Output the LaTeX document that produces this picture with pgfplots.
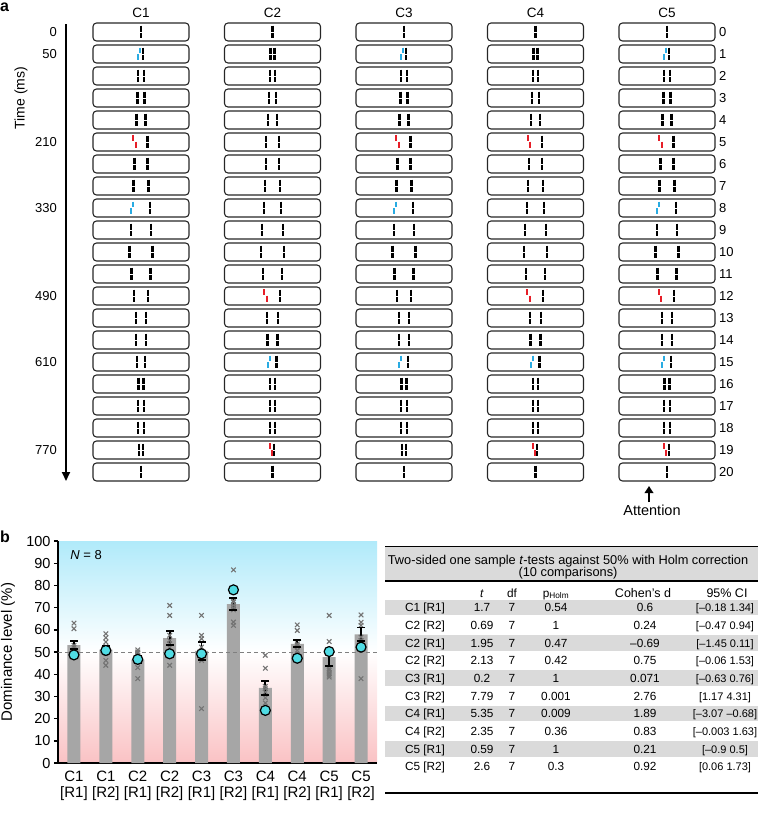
\documentclass[border=0pt]{standalone}
\usepackage{pgfplots}
\pgfplotsset{compat=1.18}
\usepackage{pgfplotstable}
\usepackage{fontspec}
\setmainfont{Liberation Sans}
\usetikzlibrary{arrows.meta}

\definecolor{stimcyan}{RGB}{41,171,226}
\definecolor{stimred}{RGB}{230,30,40}
\definecolor{bgblue}{RGB}{176,234,250}
\definecolor{bgpink}{RGB}{250,194,196}
\definecolor{bargray}{RGB}{166,166,166}
\definecolor{crossgray}{RGB}{115,115,115}
\definecolor{circcyan}{RGB}{80,220,228}
\definecolor{rowgray}{RGB}{218,218,218}

\pgfdeclareplotmark{stimB}{%
 \pgfpathmoveto{\pgfqpoint{0pt}{6.3pt}}\pgfpathlineto{\pgfqpoint{0pt}{0.5pt}}%
 \pgfpathmoveto{\pgfqpoint{0pt}{-0.5pt}}\pgfpathlineto{\pgfqpoint{0pt}{-6.3pt}}%
 \pgfusepathqstroke}
\pgfdeclareplotmark{stimC}{%
 \pgfpathmoveto{\pgfqpoint{1pt}{6.3pt}}\pgfpathlineto{\pgfqpoint{1pt}{0.6pt}}%
 \pgfpathmoveto{\pgfqpoint{-1pt}{-0.4pt}}\pgfpathlineto{\pgfqpoint{-1pt}{-6.3pt}}%
 \pgfusepathqstroke}
\pgfdeclareplotmark{stimR}{%
 \pgfpathmoveto{\pgfqpoint{-1.2pt}{6.8pt}}\pgfpathlineto{\pgfqpoint{-1.2pt}{1.2pt}}%
 \pgfpathmoveto{\pgfqpoint{1.2pt}{0.3pt}}\pgfpathlineto{\pgfqpoint{1.2pt}{-6.3pt}}%
 \pgfusepathqstroke}

% right stimuli (and single ones), offsets in px from column centre
\pgfplotstableread{
y dx
32 0
54 2
76 2.75
98 3.5
120 4.5
142 6.5
164 6.5
186 7.5
208 8.75
230 10.25
252 11.5
274 9.5
296 7.15
318 5.35
340 5
362 4
384 2.5
406 2.75
428 2.75
450 1.75
472 0
}\Rtab

% left stimuli; type per column: 0 black, 1 cyan, 2 red
\pgfplotstableread{
y dx a b c d e
54 -2 1 0 1 0 1
76 -2.75 0 0 0 0 0
98 -3.5 0 0 0 0 0
120 -4.5 0 0 0 0 0
142 -6.5 2 0 2 2 2
164 -6.5 0 0 0 0 0
186 -7.5 0 0 0 0 0
208 -8.75 1 0 1 0 1
230 -10.25 0 0 0 0 0
252 -11.5 0 0 0 0 0
274 -9.5 0 0 0 0 0
296 -7.15 0 2 0 2 2
318 -5.35 0 0 0 0 0
340 -5 0 0 0 0 0
362 -4 0 1 1 1 1
384 -2.5 0 0 0 0 0
406 -2.75 0 0 0 0 0
428 -2.75 0 0 0 0 0
450 -1.75 0 2 0 2 2
}\Ltab

% bar means and SEM
\pgfplotstableread{
x m s
0 53.1 1.8
1 51.1 1.6
2 46.6 1.75
3 56.3 3.0
4 50.5 4.0
5 71.6 2.8
6 33.8 3.05
7 53.7 1.6
8 47.7 3.9
9 57.9 3.1
}\bartab

\pgfplotstableread{
x y
0 63
0 60.5
0 53
0 52
0 50.5
0 49.5
0 49
0 48
1 58.2
1 56.4
1 54.5
1 52.5
1 51
1 49.2
1 46.2
1 44
2 51
2 50
2 49.5
2 48.5
2 46
2 45.5
2 43
2 38
3 71
3 66.5
3 57.5
3 55.2
3 53.7
3 52
3 49.2
3 44
4 66.5
4 57.5
4 56
4 52.2
4 50
4 48.5
4 46.2
4 24.5
5 87
5 73
5 72.5
5 71
5 70
5 69
5 63.5
5 62
6 48.5
6 42.7
6 34.5
6 33.5
6 32
6 29.4
6 27
6 23.7
7 62.2
7 59.7
7 53.7
7 53
7 52.2
7 50.7
7 48.5
7 47
8 66.5
8 54.7
8 50
8 42.5
8 41.7
8 40.5
8 39.5
8 38.7
9 66.7
9 63.4
9 62
9 56.7
9 55.2
9 53
9 51.9
9 38
}\crosstab

\newcommand{\stimcol}[2]{%
 \addplot[only marks, mark=stimB, mark options={black, line width=2.2pt}] table[x expr=\thisrow{dx}+#2, y=y]{\Rtab};
 \addplot[only marks, mark=stimB, mark options={black, line width=2.2pt}, restrict expr to domain={\thisrow{#1}}{-0.5:0.5}] table[x expr=\thisrow{dx}+#2, y=y]{\Ltab};
 \addplot[only marks, mark=stimC, mark options={stimcyan, line width=2pt}, restrict expr to domain={\thisrow{#1}}{0.5:1.5}] table[x expr=\thisrow{dx}+#2, y=y]{\Ltab};
 \addplot[only marks, mark=stimR, mark options={stimred, line width=2pt}, restrict expr to domain={\thisrow{#1}}{1.5:2.5}] table[x expr=\thisrow{dx}+#2, y=y]{\Ltab};
}

\newcommand{\trow}[7]{%
 \node[anchor=base] at (425,#1) {#2};
 \node[anchor=base] at (482,#1) {#3};
 \node[anchor=base] at (512,#1) {#4};
 \node[anchor=base] at (556,#1) {#5};
 \node[anchor=base] at (645,#1) {#6};
 \node[anchor=base, font=\fontsize{11}{12}\selectfont] at (725,#1) {#7};
}

\begin{document}
\begin{tikzpicture}
\useasboundingbox (0,0) rectangle (758pt,-814pt);

% ---------- panel a: stimuli ----------
\begin{axis}[at={(0,0)}, anchor=north west, x=1pt, y=1pt, y dir=reverse,
  xmin=0, xmax=758, ymin=0, ymax=500, hide axis, clip=false, enlargelimits=false]
 \stimcol{a}{141}
 \stimcol{b}{272.5}
 \stimcol{c}{404}
 \stimcol{d}{535.5}
 \stimcol{e}{667}
\end{axis}

\begin{scope}[x=1pt, y=-1pt]
 \foreach \cx in {141,272.5,404,535.5,667}{
  \foreach \r in {0,...,20}{
   \pgfmathsetmacro{\yy}{32+22*\r}
   \draw[line width=1.1pt, black!85, rounded corners=3.5pt] ({\cx-48},{\yy-9}) rectangle ({\cx+48},{\yy+9});
  }}
 \node[anchor=base west, font=\fontsize{16}{18}\selectfont\bfseries, inner sep=0pt] at (0,11) {a};
 \foreach \cx/\t in {141/C1,272.5/C2,404/C3,535.5/C4,667/C5}
   \node[font=\fontsize{13.5}{15}\selectfont] at (\cx,13) {\t};
 \foreach \r in {0,...,20}{
   \pgfmathsetmacro{\yy}{32+22*\r}
   \node[anchor=west, font=\fontsize{13}{15}\selectfont, inner sep=0pt] at (719,\yy) {\r};
 }
 \foreach \r/\t in {0/0,1/50,5/210,8/330,12/490,15/610,19/770}{
   \pgfmathsetmacro{\yy}{32+22*\r}
   \node[anchor=east, font=\fontsize{13}{15}\selectfont, inner sep=0pt] at (57,\yy) {\t};
 }
 \node[rotate=90, font=\fontsize{14}{16}\selectfont] at (21,98) {Time (ms)};
 \draw[line width=1.8pt, -{Triangle[length=9pt, width=8pt]}] (66,24) -- (66,481);
 \draw[line width=2.6pt, -{Triangle[length=7pt, width=8.5pt]}] (649,502) -- (649,486);
 \node[font=\fontsize{14.5}{16}\selectfont] at (652,510) {Attention};

 % ---------- panel b label & y label ----------
 \node[anchor=base west, font=\fontsize{16}{18}\selectfont\bfseries, inner sep=0pt] at (0,542) {b};
 \node[rotate=90, font=\fontsize{15}{17}\selectfont] at (8,652) {Dominance level (\%)};

 % ---------- table ----------
 \fill[rowgray] (385,546) rectangle (758,581);
 \draw[line width=0.8pt] (385,546) -- (758,546);
 \draw[line width=2.5pt] (385,581) -- (758,581);
 \foreach \yc in {607.3,642.7,678.1,713.5,748.9}
   \fill[rowgray] (385,\yc-7.8) rectangle (758,\yc+7.8);
 \draw[line width=2pt] (385,793) -- (758,793);
 \node[anchor=base, font=\fontsize{12.8}{14}\selectfont] at (568,564) {Two-sided one sample \textit{t}-tests against 50\% with Holm correction};
 \node[anchor=base, font=\fontsize{12.8}{14}\selectfont] at (568,576.5) {(10 comparisons)};
 \begin{scope}[font=\fontsize{11.8}{13}\selectfont]
  \node[anchor=base] at (482,597) {\textit{t}};
  \node[anchor=base] at (512,597) {df};
  \node[anchor=base] at (556,597) {p\textsubscript{Holm}};
  \node[anchor=base, font=\fontsize{12.5}{13}\selectfont] at (643,597) {Cohen’s d};
  \node[anchor=base, font=\fontsize{12.5}{13}\selectfont] at (727,597) {95\% CI};
  \trow{611.6}{C1 [R1]}{1.7}{7}{0.54}{0.6}{[–0.18 1.34]}
  \trow{629.3}{C2 [R2]}{0.69}{7}{1}{0.24}{[–0.47 0.94]}
  \trow{647.0}{C2 [R1]}{1.95}{7}{0.47}{–0.69}{[–1.45 0.11]}
  \trow{664.7}{C2 [R2]}{2.13}{7}{0.42}{0.75}{[–0.06 1.53]}
  \trow{682.4}{C3 [R1]}{0.2}{7}{1}{0.071}{[–0.63 0.76]}
  \trow{700.1}{C3 [R2]}{7.79}{7}{0.001}{2.76}{[1.17 4.31]}
  \trow{717.8}{C4 [R1]}{5.35}{7}{0.009}{1.89}{[–3.07 –0.68]}
  \trow{735.5}{C4 [R2]}{2.35}{7}{0.36}{0.83}{[–0.003 1.63]}
  \trow{753.2}{C5 [R1]}{0.59}{7}{1}{0.21}{[–0.9 0.5]}
  \trow{770.9}{C5 [R2]}{2.6}{7}{0.3}{0.92}{[0.06 1.73]}
 \end{scope}
\end{scope}

% ---------- panel b: bar chart ----------
\begin{axis}[
  at={(58pt,-763pt)}, anchor=south west,
  scale only axis, width=319pt, height=222pt,
  xmin=-0.5, xmax=9.5, ymin=0, ymax=100,
  axis x line*=bottom, axis y line*=left,
  axis line style={line width=1.6pt},
  ytick={0,10,...,100},
  xtick={0,...,9},
  xticklabels={{C1\\{}[R1]},{C1\\{}[R2]},{C2\\{}[R1]},{C2\\{}[R2]},{C3\\{}[R1]},{C3\\{}[R2]},{C4\\{}[R1]},{C4\\{}[R2]},{C5\\{}[R1]},{C5\\{}[R2]}},
  xticklabel style={align=center, font=\fontsize{15}{16}\selectfont},
  yticklabel style={font=\fontsize{14.5}{16}\selectfont},
  /pgf/number format/assume math mode=true,
  x tick style={draw=none},
  y tick style={line width=1.4pt, black},
  tick align=outside, major tick length=4pt,
  axis background/.style={shade, top color=bgblue, bottom color=bgpink, middle color=white},
  clip=false,
]
\addplot[ybar, bar width=13pt, fill=bargray, draw=none] table[x=x, y=m]{\bartab};
\addplot[gray, line width=1pt, dash pattern=on 4pt off 3pt] coordinates {(-0.5,50) (9.5,50)};
\addplot[only marks, mark=x, mark size=3.2pt, mark options={crossgray, line width=1.1pt}] table[x=x, y=y]{\crosstab};
\addplot[black, line width=1.8pt, quiver={u=0, v=2*\thisrow{s}}] table[x=x, y expr=\thisrow{m}-\thisrow{s}]{\bartab};
\addplot[only marks, mark=-, mark size=4pt, mark options={black, line width=1.8pt}] table[x=x, y expr=\thisrow{m}+\thisrow{s}]{\bartab};
\addplot[only marks, mark=-, mark size=4pt, mark options={black, line width=1.8pt}] table[x=x, y expr=\thisrow{m}-\thisrow{s}]{\bartab};
\addplot[only marks, mark=*, mark size=5pt, mark options={fill=circcyan, draw=black, line width=1.2pt}]
 coordinates {(0,48.7) (1,50.7) (2,46.7) (3,49.2) (4,49.2) (5,78) (6,23.7) (7,47.2) (8,50.2) (9,52.2)};
\node[anchor=west, font=\fontsize{13}{15}\selectfont] at (axis cs:-0.22,93.5) {\textit{N} = 8};
\end{axis}
\end{tikzpicture}
\end{document}
